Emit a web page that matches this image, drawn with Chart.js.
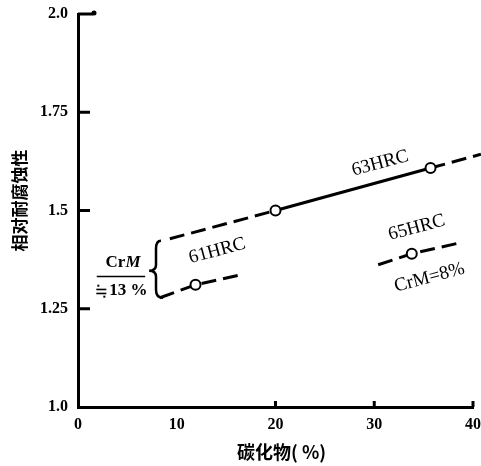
<!DOCTYPE html>
<html><head><meta charset="utf-8">
<script src="https://cdn.jsdelivr.net/npm/chart.js@4"></script>
<style>html,body{margin:0;padding:0;background:#fff}#wrap{width:481px;height:466px;position:relative}</style>
</head><body><div id="wrap"><canvas id="c" width="481" height="466"></canvas></div>
<script>
// ---- data ----
const xTickValues = [0, 10, 20, 30, 40];
const yTickLabels = ['1.0', '1.25', '1.5', '1.75', '2.0'];
const upperX = [9.3, 20, 35.7, 40.8];
const upperY = [1.428, 1.5, 1.608, 1.643];
const upperMarkers = [0, 5, 5, 0];
const hrc61X = [8.3, 11.9, 16.6];
const hrc61Y = [1.278, 1.311, 1.337];
const hrc65X = [30.4, 33.8, 38.7];
const hrc65Y = [1.362, 1.39, 1.418];
const sideMarkers = [0, 5, 0];
const xTitle = '碳化物( %)';
const yTitle = '相对耐腐蚀性';

const toPts = (xs, ys) => xs.map((x, i) => ({x, y: ys[i]}));
const SERIF = '"Liberation Serif", "DejaVu Serif", serif';
const CJK = '"Noto Sans CJK SC", sans-serif';

const annotations = [
  {t: '63HRC', x: 30.6, y: 1.62, rot: -15, font: '19px ' + SERIF},
  {t: '61HRC', x: 14.1, y: 1.397, rot: -15, font: '19px ' + SERIF},
  {t: '65HRC', x: 34.3, y: 1.456, rot: -15, font: '19px ' + SERIF},
  {t: 'CrM=8%', x: 35.6, y: 1.329, rot: -15, font: '19px ' + SERIF}
];

const deco = {
  id: 'deco',
  afterDatasetsDraw(chart) {
    const {ctx, scales: {x, y}, chartArea} = chart;
    const px = v => x.getPixelForValue(v), py = v => y.getPixelForValue(v);
    ctx.save();
    ctx.fillStyle = '#000'; ctx.strokeStyle = '#000';
    // inside ticks on y
    ctx.lineWidth = 3;
    [1.25, 1.5, 1.75, 2.0].forEach(v => {
      ctx.beginPath(); ctx.moveTo(px(0), py(v)); ctx.lineTo(px(0) + (v === 2 ? 15 : 12), py(v)); ctx.stroke();
    });
    ctx.beginPath(); ctx.arc(px(0) + 16, py(2) - 1, 2.5, 0, Math.PI * 2); ctx.fill();
    // small x ticks
    [20, 30, 40].forEach(v => {
      ctx.beginPath(); ctx.moveTo(px(v), py(1)); ctx.lineTo(px(v), py(1) - 6); ctx.stroke();
    });
    // text annotations
    ctx.textAlign = 'center'; ctx.textBaseline = 'middle';
    annotations.forEach(a => {
      ctx.save();
      ctx.translate(px(a.x), py(a.y));
      ctx.rotate(a.rot * Math.PI / 180);
      ctx.font = a.font;
      ctx.fillText(a.t, 0, 0);
      ctx.restore();
    });
    // CrM with italic M
    ctx.textAlign = 'left';
    ctx.font = 'bold 17px ' + SERIF;
    const cx = px(4.56), cy = py(1.367);
    const w1 = ctx.measureText('Cr').width;
    ctx.font = 'bold italic 17px ' + SERIF;
    const w2 = ctx.measureText('M').width;
    ctx.font = 'bold 17px ' + SERIF;
    ctx.fillText('Cr', cx - (w1 + w2) / 2, cy);
    ctx.font = 'bold italic 17px ' + SERIF;
    ctx.fillText('M', cx - (w1 + w2) / 2 + w1, cy);
    // ≒13 %  (approx-equal sign drawn as two bars with dots)
    const ny = py(1.296);
    ctx.font = 'bold 17px ' + SERIF;
    const we = 13;
    const wn = ctx.measureText('13 %').width;
    const sx = px(4.45) - (we + wn) / 2;
    ctx.fillRect(sx, ny - 2, 10, 1.6);
    ctx.fillRect(sx, ny + 2, 10, 1.6);
    ctx.fillRect(sx + 1, ny - 6, 2, 2);
    ctx.fillRect(sx + 7, ny + 5, 2, 2);
    ctx.fillText('13 %', sx + we, ny);
    // fraction bar
    ctx.lineWidth = 1.5;
    ctx.beginPath(); ctx.moveTo(px(1.9), py(1.332)); ctx.lineTo(px(6.8), py(1.332)); ctx.stroke();
    // brace
    ctx.lineWidth = 2.5;
    const tipX = px(7.2), tipY = py(1.347), vx = px(7.9), topY = py(1.423), botY = py(1.278), endX = px(8.4);
    ctx.beginPath();
    ctx.moveTo(endX, topY);
    ctx.quadraticCurveTo(vx, topY, vx, topY + 8);
    ctx.lineTo(vx, tipY - 6);
    ctx.quadraticCurveTo(vx, tipY, tipX, tipY);
    ctx.quadraticCurveTo(vx, tipY, vx, tipY + 6);
    ctx.lineTo(vx, botY - 8);
    ctx.quadraticCurveTo(vx, botY, endX + 2, botY);
    ctx.stroke();
    // axis titles
    ctx.textAlign = 'center'; ctx.textBaseline = 'middle';
    ctx.font = 'bold 18px ' + CJK;
    ctx.fillText(xTitle, (chartArea.left + chartArea.right) / 2 + 6, chartArea.bottom + 45);
    ctx.save();
    ctx.translate(chartArea.left - 58, (chartArea.top + chartArea.bottom) / 2 - 10);
    ctx.rotate(-Math.PI / 2);
    ctx.font = 'bold 17px ' + CJK;
    ctx.fillText(yTitle, 0, 0);
    ctx.restore();
    ctx.restore();
  }
};

const lineDs = (data, radius, segmentFn) => ({
  data, borderColor: '#000', borderWidth: 3, pointRadius: radius,
  pointBackgroundColor: '#fff', pointBorderColor: '#000', pointBorderWidth: 2,
  fill: false, tension: 0, clip: false, borderDash: [15, 7], showLine: true,
  segment: segmentFn ? {borderDash: segmentFn} : undefined
});

new Chart(document.getElementById('c'), {
  type: 'scatter',
  data: {datasets: [
    lineDs(toPts(upperX, upperY), upperMarkers, c => c.p0DataIndex === 1 ? [] : [15, 7]),
    lineDs(toPts(hrc61X, hrc61Y), sideMarkers),
    lineDs(toPts(hrc65X, hrc65Y), sideMarkers)
  ]},
  options: {
    responsive: false, animation: false,
    layout: {padding: {top: 14, right: 8, left: 0, bottom: 0}},
    plugins: {legend: {display: false}, tooltip: {enabled: false}},
    scales: {
      x: {
        type: 'linear', min: 0, max: 40,
        afterFit: s => { s.height = 59; },
        afterBuildTicks: s => { s.ticks = xTickValues.map(v => ({value: v})); },
        grid: {display: false},
        border: {display: true, color: '#000', width: 3},
        ticks: {color: '#000', padding: 0, font: {family: SERIF, size: 16, weight: 'bold'}, callback: v => String(v)}
      },
      y: {
        type: 'linear', min: 1.0, max: 2.0,
        afterFit: s => { s.width = 78; },
        afterBuildTicks: s => { s.ticks = yTickLabels.map(l => ({value: parseFloat(l)})); },
        grid: {display: false},
        border: {display: true, color: '#000', width: 3},
        ticks: {color: '#000', padding: 2, font: {family: SERIF, size: 16, weight: 'bold'},
          callback: (v) => yTickLabels.find(l => parseFloat(l) === v)}
      }
    }
  },
  plugins: [deco]
});
</script></body></html>
